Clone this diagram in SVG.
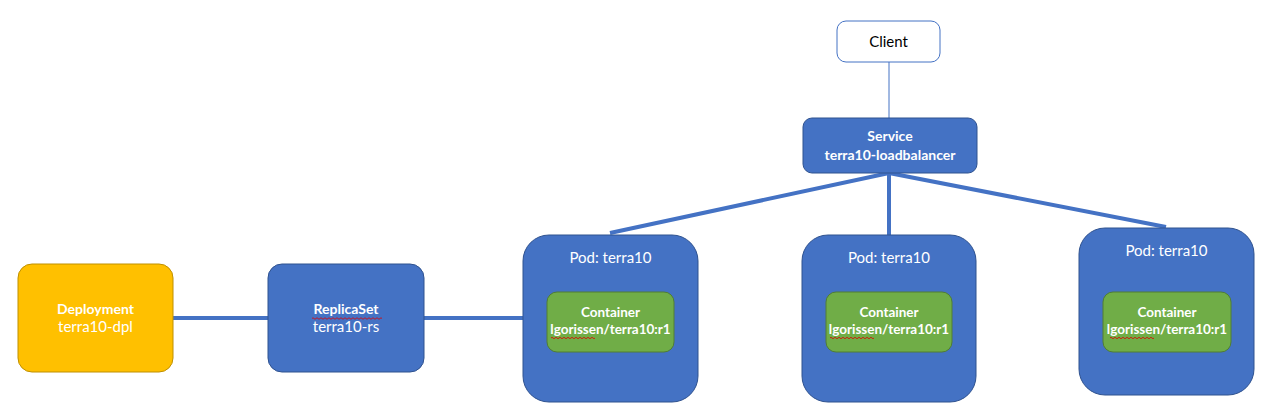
<svg xmlns="http://www.w3.org/2000/svg" width="1271" height="414" viewBox="0 0 1271 414">
<style>
text{font-family:Lato,"Liberation Sans",sans-serif;fill:#fff;text-anchor:middle}
.b{font-weight:bold;font-size:14px}
.c{font-weight:bold;font-size:13.5px}
.n{font-size:15px}
.blue{fill:#4472C4;stroke:#2F528F;stroke-width:1}
.pod{fill:#4472C4;stroke:#2F528F;stroke-width:1}
.ctr{fill:#70AD47;stroke:#507E32;stroke-width:1}
.conn{stroke:#4472C4;stroke-width:4;fill:none}
.sq{stroke:#E00000;stroke-width:0.8;fill:none}
</style>
<rect width="1271" height="414" fill="#fff"/>
<g id="connectors">
<line class="conn" x1="173" y1="318" x2="268" y2="318"/>
<line class="conn" x1="424" y1="318" x2="523" y2="318"/>
<line x1="889" y1="62" x2="889" y2="118" stroke="#4472C4" stroke-width="1"/>
<line class="conn" x1="889" y1="173" x2="610" y2="233"/>
<line class="conn" x1="889" y1="173" x2="889" y2="235"/>
<line class="conn" x1="889" y1="173" x2="1166" y2="227"/>
</g>
<g id="client">
<rect x="837" y="21" width="103" height="41" rx="9" fill="#fff" stroke="#4472C4" stroke-width="1"/>
<text x="888.5" y="47" class="n" style="fill:#000">Client</text>
</g>
<g id="service">
<rect x="803" y="118" width="174" height="55" rx="9" class="blue"/>
<text x="890" y="141" class="b">Service</text>
<text x="890" y="160" class="b">terra10-loadbalancer</text>
</g>
<g id="deployment">
<rect x="18" y="264" width="155" height="108" rx="14" fill="#FFC000" stroke="#BF9000" stroke-width="1"/>
<text x="95.5" y="314" class="b">Deployment</text>
<text x="95.5" y="332" class="n">terra10-dpl</text>
</g>
<g id="replicaset">
<rect x="268" y="264" width="156" height="108" rx="14" class="blue"/>
<text x="346" y="314" class="b">ReplicaSet</text>
<text x="346" y="332" class="n">terra10-rs</text>
<path class="sq" d="M312 318.5 q1 -1.5 2 0 t2 0 t2 0 t2 0 t2 0 t2 0 t2 0 t2 0 t2 0 t2 0 t2 0 t2 0 t2 0 t2 0 t2 0 t2 0 t2 0 t2 0 t2 0 t2 0 t2 0 t2 0 t2 0 t2 0 t2 0 t2 0 t2 0 t2 0 t2 0 t2 0 t2 0 t2 0 t2 0 t2 0 t2 0"/>
</g>
<g id="pod1">
<rect x="523" y="235" width="175" height="167" rx="26" class="pod"/>
<text x="610.5" y="263" class="n">Pod: terra10</text>
<rect x="547" y="292" width="127" height="60" rx="10" class="ctr"/>
<text x="610.5" y="317" class="c">Container</text>
<text x="610.5" y="334" class="c">lgorissen/terra10:r1</text>
<path class="sq" d="M551 338 q1 -1.5 2 0 t2 0 t2 0 t2 0 t2 0 t2 0 t2 0 t2 0 t2 0 t2 0 t2 0 t2 0 t2 0 t2 0 t2 0 t2 0 t2 0 t2 0 t2 0 t2 0 t2 0 t2 0"/>
</g>
<g id="pod2">
<rect x="802" y="235" width="174" height="167" rx="26" class="pod"/>
<text x="889" y="263" class="n">Pod: terra10</text>
<rect x="826" y="292" width="126" height="60" rx="10" class="ctr"/>
<text x="889" y="317" class="c">Container</text>
<text x="889" y="334" class="c">lgorissen/terra10:r1</text>
<path class="sq" d="M830 338 q1 -1.5 2 0 t2 0 t2 0 t2 0 t2 0 t2 0 t2 0 t2 0 t2 0 t2 0 t2 0 t2 0 t2 0 t2 0 t2 0 t2 0 t2 0 t2 0 t2 0 t2 0 t2 0 t2 0"/>
</g>
<g id="pod3">
<rect x="1079" y="228" width="175" height="167" rx="26" class="pod"/>
<text x="1166.5" y="256" class="n">Pod: terra10</text>
<rect x="1103" y="292" width="128" height="60" rx="10" class="ctr"/>
<text x="1167" y="317" class="c">Container</text>
<text x="1167" y="334" class="c">lgorissen/terra10:r1</text>
<path class="sq" d="M1110 338 q1 -1.5 2 0 t2 0 t2 0 t2 0 t2 0 t2 0 t2 0 t2 0 t2 0 t2 0 t2 0 t2 0 t2 0 t2 0 t2 0 t2 0 t2 0 t2 0 t2 0 t2 0 t2 0 t2 0"/>
</g>
</svg>
